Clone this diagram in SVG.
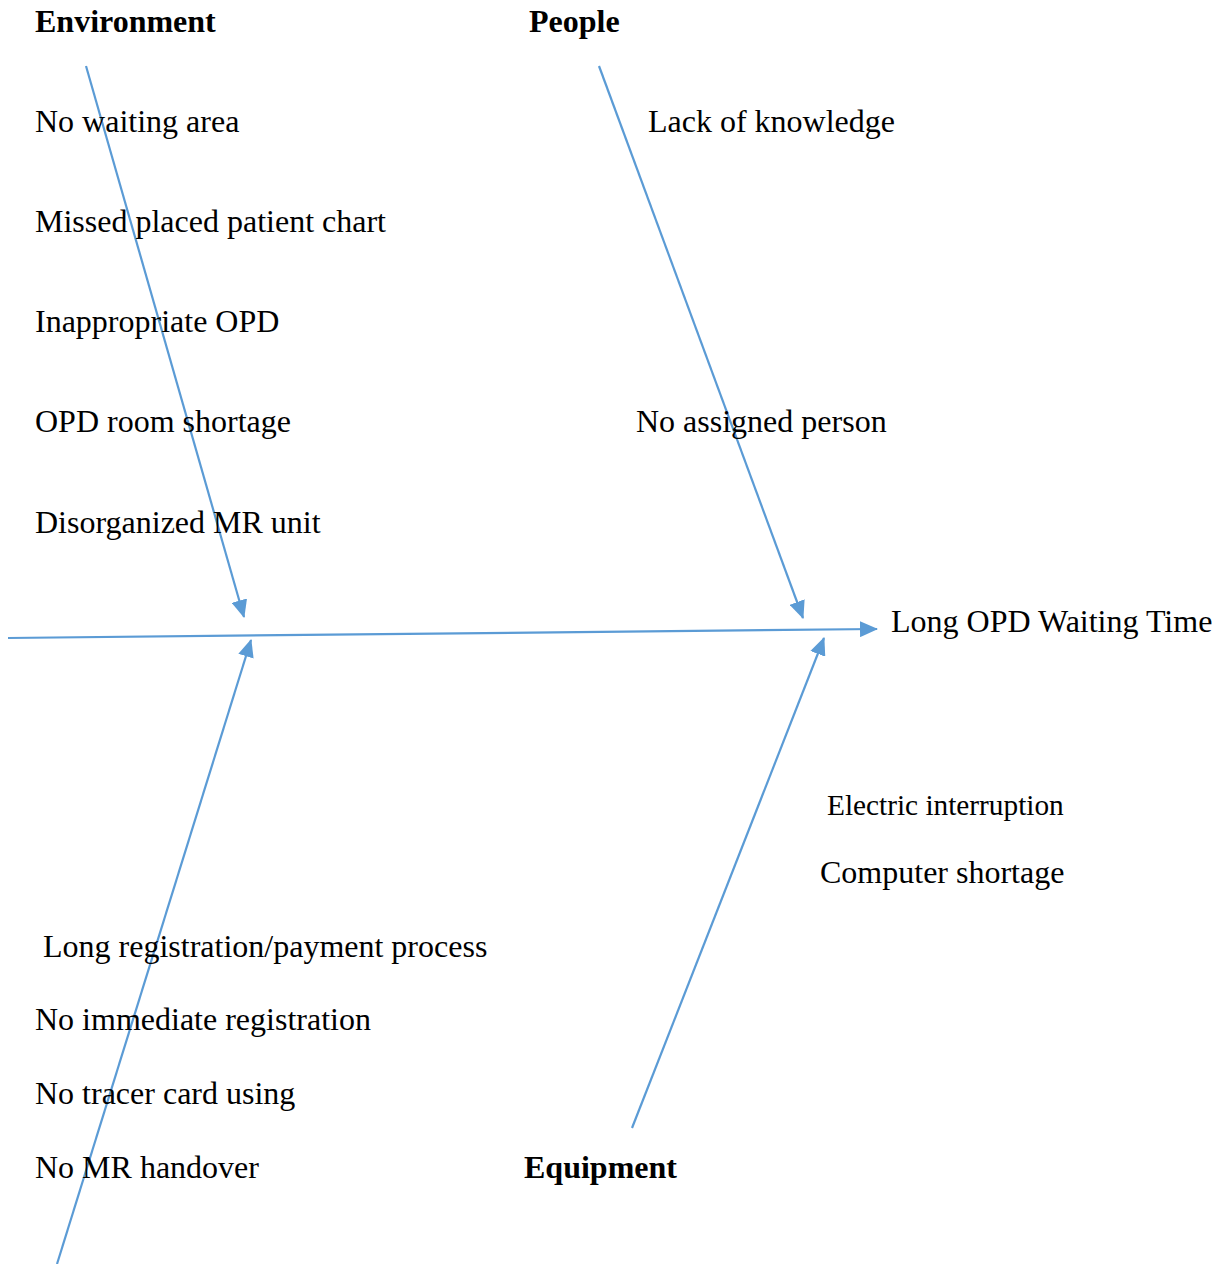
<svg xmlns="http://www.w3.org/2000/svg" width="1222" height="1264" viewBox="0 0 1222 1264">
<style>
text{font-family:"Liberation Serif","Times New Roman",serif;font-size:32px;fill:#000}
.h{font-weight:bold}
.s{font-size:29.3px}
.ln{stroke:#5B9BD5;stroke-width:2.2;fill:none}
</style>
<defs>
<marker id="a" markerWidth="18" markerHeight="16" refX="17" refY="8" orient="auto" markerUnits="userSpaceOnUse">
<path d="M0,0 L18,8 L0,16 z" fill="#5B9BD5"/>
</marker>
</defs>
<rect width="1222" height="1264" fill="#fff"/>
<g id="connectors">
<line class="ln" x1="8" y1="638" x2="877" y2="629" marker-end="url(#a)"/>
<line class="ln" x1="86" y1="66" x2="244" y2="617" marker-end="url(#a)"/>
<line class="ln" x1="599" y1="66" x2="803" y2="618" marker-end="url(#a)"/>
<line class="ln" x1="57" y1="1264" x2="251" y2="640" marker-end="url(#a)"/>
<line class="ln" x1="632" y1="1128" x2="824" y2="638" marker-end="url(#a)"/>
</g>
<g id="environment">
<text class="h" x="35" y="32">Environment</text>
<text x="35" y="132">No waiting area</text>
<text x="35" y="232">Missed placed patient chart</text>
<text x="35" y="332">Inappropriate OPD</text>
<text x="35" y="432">OPD room shortage</text>
<text x="35" y="533">Disorganized MR unit</text>
</g>
<g id="people">
<text class="h" x="529" y="32">People</text>
<text x="648" y="132">Lack of knowledge</text>
<text x="636" y="432">No assigned person</text>
</g>
<g id="effect">
<text x="891" y="632">Long OPD Waiting Time</text>
</g>
<g id="equipment">
<text class="s" x="827" y="815">Electric interruption</text>
<text x="820" y="883">Computer shortage</text>
<text class="h" x="524" y="1178">Equipment</text>
</g>
<g id="process">
<text x="43" y="957">Long registration/payment process</text>
<text x="35" y="1030">No immediate registration</text>
<text x="35" y="1104">No tracer card using</text>
<text x="35" y="1178">No MR handover</text>
</g>
</svg>
